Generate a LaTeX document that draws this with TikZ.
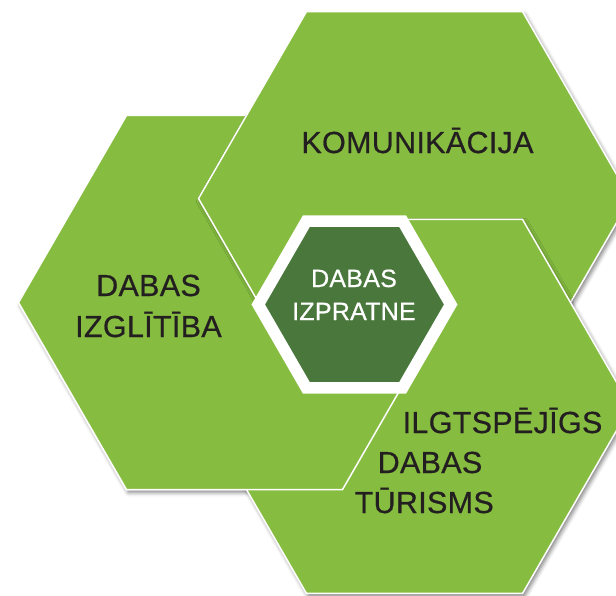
\documentclass[tikz,border=0pt]{standalone}
\usepackage{fontspec}
\setmainfont{Liberation Sans}
\newfontfamily\hexfont{Liberation Sans}[FakeBold=0.6, LetterSpace=1]
\usetikzlibrary{shapes.geometric,shadows.blur}
\definecolor{leaf}{HTML}{86BD41}
\definecolor{moss}{HTML}{4A773C}
\definecolor{ink}{HTML}{231F20}
\tikzset{
  hexa/.style={regular polygon, regular polygon sides=6, minimum size=432pt,
    inner sep=0pt, fill=leaf, draw=white, line width=1.5pt},
  lift/.style={blur shadow={shadow xshift=2pt, shadow yshift=-3pt,
    shadow blur radius=4pt, shadow opacity=50}},
  big/.style={text=ink, font=\hexfont\fontsize{30.5}{36}\selectfont, inner sep=0pt, anchor=base},
  small/.style={text=white, font=\hexfont\fontsize{25}{30}\selectfont, inner sep=0pt, anchor=base},
}
\begin{document}
\begin{tikzpicture}[x=1pt,y=1pt]
  \useasboundingbox (-354.5,-292.5) rectangle (261.5,302.5);
  \clip (-354.5,-292.5) rectangle (261.5,302.5);

  % three big hexagons
  \node[hexa,lift] (edu) at (180:120) {};
  \node[hexa,lift] (kom) at (60:120) {};
  \node[hexa,lift] (tur) at (-60:120) {};
  % left one again, over the lower one
  \begin{scope}
    \clip (-354.5,0) rectangle (261.5,-292.5);
    \node[hexa] (eduover) at (180:120) {};
  \end{scope}

  % centre
  \node[regular polygon, regular polygon sides=6, minimum size=192.5pt, inner sep=0pt,
    fill=moss, draw=white, line width=11.7pt] (core) at (0,-2) {};

  \node[big] (komlabel) at (63,149.5) {KOMUNIK\={A}CIJA};
  \node[big] (edutop) at (-206,6.5) {DABAS};
  \node[big] (edubot) at (-206,-34.5) {IZGLĪTĪBA};
  \node[small] (coretop) at (-0.5,15.5) {DABAS};
  \node[small] (corebot) at (-0.5,-17.5) {IZPRATNE};
  \node[big,anchor=base west] (tur1) at (48,-130.5) {ILGTSPĒJĪGS};
  \node[big,anchor=base west] (tur2) at (23,-170.5) {DABAS};
  \node[big,anchor=base west] (tur3) at (0,-210.5) {TŪRISMS};
\end{tikzpicture}
\end{document}
